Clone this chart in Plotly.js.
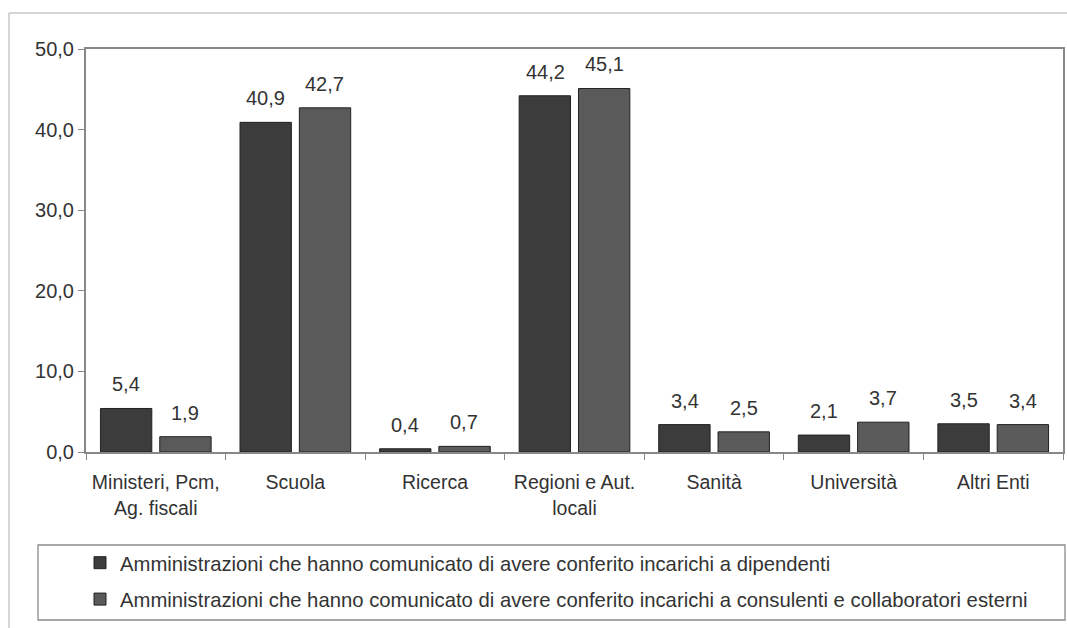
<!DOCTYPE html>
<html>
<head>
<meta charset="utf-8">
<script src="https://cdn.plot.ly/plotly-3.0.1.min.js"></script>
<style>html,body{margin:0;padding:0;background:#fff;}#chart{width:1067px;height:628px;}</style>
</head>
<body>
<div id="chart"></div>
<script>
const categories = ["Ministeri, Pcm,<br>Ag. fiscali", "Scuola", "Ricerca", "Regioni e Aut.<br>locali", "Sanità", "Università", "Altri Enti"];
const seriesNames = [
  "Amministrazioni che hanno comunicato di avere conferito incarichi a dipendenti",
  "Amministrazioni che hanno comunicato di avere conferito incarichi a consulenti e collaboratori esterni"
];
const dipendenti = [5.4, 40.9, 0.4, 44.2, 3.4, 2.1, 3.5];
const consulenti = [1.9, 42.7, 0.7, 45.1, 2.5, 3.7, 3.4];
const yTicks = [0, 10, 20, 30, 40, 50];

const colors = ["#3c3c3c", "#5a5a5a"];
const fontFam = "Liberation Sans, Arial, sans-serif";
const txtCol = "#333333";

const traces = [dipendenti, consulenti].map((vals, i) => ({
  type: "bar",
  x: categories,
  y: vals,
  name: seriesNames[i],
  legendgroup: "g" + i,
  marker: {color: colors[i], line: {color: "#222", width: 1}},
  hoverinfo: "skip"
}));

const fmt = v => v.toFixed(1).replace(".", ",");
const annotations = [];
[dipendenti, consulenti].forEach((vals, i) => {
  vals.forEach((v, j) => {
    annotations.push({
      x: categories[j], y: v, xref: "x", yref: "y",
      text: fmt(v), showarrow: false,
      xshift: i === 0 ? -29.5 : 29.5, yshift: 24,
      yanchor: "middle",
      font: {family: fontFam, size: 20, color: txtCol}
    });
  });
});

const W = 977, H = 403, L = 86, T = 49;
const px = x => (x - L) / W;
const py = y => (T + H - y) / H;

const shapes = [
  {type: "rect", xref: "paper", yref: "paper", x0: px(38), x1: px(1065), y0: py(620), y1: py(545),
   line: {color: "#8a8a8a", width: 1.3}, fillcolor: "rgba(0,0,0,0)"},
  {type: "line", xref: "paper", yref: "paper", x0: px(9), x1: px(1080), y0: py(13), y1: py(13),
   line: {color: "#c8c8c8", width: 1.5}},
  {type: "line", xref: "paper", yref: "paper", x0: px(9), x1: px(9), y0: py(13), y1: py(660),
   line: {color: "#c8c8c8", width: 1.5}}
];

const layout = {
  width: 1067, height: 628,
  margin: {l: L, r: 1067 - L - W, t: T, b: 628 - T - H},
  paper_bgcolor: "#fff", plot_bgcolor: "#fff",
  separators: ",.",
  barmode: "group", bargap: 0.15, bargroupgap: 0.134,
  font: {family: fontFam, size: 19.5, color: txtCol},
  showlegend: true,
  legend: {
    x: px(80), y: py(543), xanchor: "left", yanchor: "top",
    orientation: "v", traceorder: "grouped", tracegroupgap: 7,
    font: {family: fontFam, size: 20.3, color: txtCol},
    bgcolor: "rgba(0,0,0,0)", borderwidth: 0
  },
  xaxis: {
    type: "category", tickson: "boundaries", ticks: "outside", ticklen: 6, tickcolor: "#888",
    showline: true, linecolor: "#888", linewidth: 2, mirror: true,
    showgrid: false, zeroline: false, ticklabelstandoff: 12,
    tickfont: {family: fontFam, size: 19.5, color: txtCol}, automargin: false
  },
  yaxis: {
    range: [0, 50], tickvals: yTicks, tickformat: ".1f",
    ticks: "outside", ticklen: 6, tickcolor: "#888",
    showline: true, linecolor: "#888", linewidth: 2, mirror: true,
    showgrid: false, zeroline: false,
    tickfont: {family: fontFam, size: 20, color: txtCol}, automargin: false
  },
  annotations: annotations,
  shapes: shapes
};

Plotly.newPlot("chart", traces, layout, {displayModeBar: false, staticPlot: true});
</script>
</body>
</html>
